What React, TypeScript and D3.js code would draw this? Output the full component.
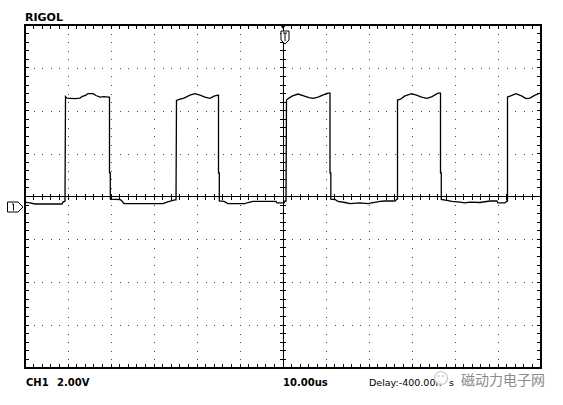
import React from "react";
import * as d3 from "d3";

// Trace samples: time (µs, relative to trigger) and voltage (V)
const timeUs = [
  -60, -58.84, -57.67, -51.4, -51.16, -50.7, -50.58,
  -50.23, -48.37, -47.21, -46.74, -45.81, -45.35, -44.19, -43.49, -42.56, -41.63, -40.7, -40.35,
  -40.35, -40.16, -40.16,
  -37.91, -37.44, -36.98, -27.91, -26.98, -25.81, -25.12, -24.88, -24.77,
  -23.95, -23.02, -21.63, -20.47, -19.3, -18.14, -16.98, -16.05, -15.12, -15.0,
  -15.0, -14.81, -14.81,
  -13.72, -12.79, -8.84, -8.14, -6.98, -1.63, -1.4, 0.23, 0.47, 0.7, 0.81,
  1.4, 2.09, 3.49, 4.65, 6.05, 6.98, 8.14, 9.53, 10.47, 10.93,
  10.93, 11.12, 11.12,
  12.09, 12.79, 14.42, 15.58, 17.91, 19.77, 22.56, 23.72, 26.05, 26.51, 26.63, 26.63,
  27.33, 28.26, 29.88, 31.05, 32.21, 33.49, 34.65, 36.05, 36.63,
  36.63, 36.81, 36.81,
  38.37, 39.3, 41.16, 42.33, 43.49, 45.81, 48.14, 49.77, 50.0, 51.63, 52.09, 52.21, 52.21,
  52.79, 54.19, 55.58, 56.51, 57.44, 58.6, 60.0,
];
const volts = [
  0.23, 0.19, 0.14, 0.14, 0.23, 0.28, 5.15,
  5.08, 5.06, 5.08, 5.15, 5.22, 5.29, 5.29, 5.2, 5.13, 5.15, 5.13, 5.13,
  1.59, 1.59, 0.37,
  0.35, 0.28, 0.16, 0.16, 0.23, 0.3, 0.33, 0.33, 4.97,
  5.03, 5.08, 5.22, 5.29, 5.22, 5.13, 5.07, 5.17, 5.22, 5.22,
  1.59, 1.59, 0.28,
  0.26, 0.16, 0.16, 0.21, 0.26, 0.26, 0.19, 0.19, 0.28, 0.28, 4.99,
  5.08, 5.17, 5.27, 5.2, 5.1, 5.07, 5.13, 5.24, 5.31, 5.31,
  1.59, 1.59, 0.37,
  0.35, 0.26, 0.21, 0.16, 0.19, 0.16, 0.26, 0.28, 0.28, 0.37, 0.37, 4.99,
  5.03, 5.17, 5.29, 5.22, 5.13, 5.07, 5.15, 5.31, 5.31,
  1.59, 1.59, 0.35,
  0.3, 0.26, 0.23, 0.19, 0.23, 0.21, 0.28, 0.28, 0.19, 0.19, 0.28, 0.28, 5.13,
  5.17, 5.29, 5.17, 5.06, 5.08, 5.22, 5.33,
];

const xDivisions = d3.range(-6, 7); // 10 µs/div
const yDivisions = d3.range(-4, 5); // 2 V/div
const voltsPerDiv = 2;
const usPerDiv = 10;
const screenCenterVolts = 0.49;

const W = 563;
const H = 405;
const L = 25, R = 541, T = 25, B = 368;

export default function App() {
  const x = d3.scaleLinear().domain([-6 * usPerDiv, 6 * usPerDiv]).range([L, R]);
  const y = d3
    .scaleLinear()
    .domain([screenCenterVolts - 4 * voltsPerDiv, screenCenterVolts + 4 * voltsPerDiv])
    .range([B, T]);

  const minorX = d3.range(-30, 31).map((i) => x((i * usPerDiv) / 5));
  const minorY = d3.range(-20, 21).map((j) => y(screenCenterVolts + (j * voltsPerDiv) / 5));
  const cx = x(0);
  const cy = y(screenCenterVolts);

  const pts: [number, number][] = timeUs.map((t, i) => [t, volts[i]]);
  const line = d3
    .line<[number, number]>()
    .x((d) => x(d[0]))
    .y((d) => y(d[1]));

  const dots: React.ReactNode[] = [];
  xDivisions.forEach((k) => {
    if (k === -6 || k === 6 || k === 0) return;
    const gx = Math.round(x(k * usPerDiv));
    minorY.slice(1, -1).forEach((py, j) => {
      dots.push(<rect key={`v${k}-${j}`} x={gx} y={Math.round(py)} width={1} height={1} fill="#444" />);
    });
  });
  yDivisions.forEach((k) => {
    if (k === -4 || k === 4 || k === 0) return;
    const gy = Math.round(y(screenCenterVolts + k * voltsPerDiv));
    minorX.slice(1, -1).forEach((px, j) => {
      dots.push(<rect key={`h${k}-${j}`} x={Math.round(px)} y={gy} width={1} height={1} fill="#444" />);
    });
  });

  const ticks: React.ReactNode[] = [];
  minorX.slice(1, -1).forEach((px, i) => {
    ticks.push(<line key={`tt${i}`} x1={px} x2={px} y1={T} y2={T + 4} />);
    ticks.push(<line key={`tb${i}`} x1={px} x2={px} y1={B - 4} y2={B} />);
    ticks.push(<line key={`tc${i}`} x1={px} x2={px} y1={cy - 3} y2={cy + 3} />);
  });
  minorY.slice(1, -1).forEach((py, i) => {
    ticks.push(<line key={`tl${i}`} x1={L} x2={L + 4} y1={py} y2={py} />);
    ticks.push(<line key={`tr${i}`} x1={R - 4} x2={R} y1={py} y2={py} />);
    ticks.push(<line key={`tm${i}`} x1={cx - 3} x2={cx + 3} y1={py} y2={py} />);
  });

  const groundY = y(0);

  return (
    <svg
      width={W}
      height={H}
      style={{ position: "absolute", left: 0, top: 0, background: "#fff" }}
    >
      <rect x={0} y={0} width={W} height={H} fill="#fff" />
      <text x={25} y={21} fontFamily="DejaVu Sans" fontWeight="bold" fontSize={11} fill="#000">
        RIGOL
      </text>
      <g>{dots}</g>
      <g stroke="#000" strokeWidth={1} shapeRendering="crispEdges">
        {ticks}
        <line x1={L} x2={R} y1={cy} y2={cy} />
        <line x1={cx} x2={cx} y1={T} y2={B} />
      </g>
      <rect x={L} y={T} width={R - L} height={B - T} fill="none" stroke="#000" strokeWidth={2} />
      {/* trigger marker */}
      <path d={`M${cx - 3},${T} L${cx + 3},${T} L${cx},${T + 4} Z`} fill="#000" />
      <path
        d={`M${cx - 2},${T + 6} H${cx + 6} V${T + 15} L${cx + 2},${T + 19} L${cx - 2},${T + 15} Z`}
        fill="#fff"
        stroke="#000"
        strokeWidth={1}
      />
      <path d={`M${cx},${T + 8} H${cx + 4} M${cx + 2},${T + 8} V${T + 16}`} stroke="#000" strokeWidth={1} fill="none" />
      {/* channel marker */}
      <path
        d={`M7.5,${groundY - 5} H18 L23,${groundY} L18,${groundY + 5} H7.5 Z`}
        fill="#fff"
        stroke="#000"
        strokeWidth={1}
      />
      <path d={`M12,${groundY - 3} H13.5 V${groundY + 3.5}`} stroke="#000" strokeWidth={1} fill="none" />
      {/* trace */}
      <path d={line(pts) || ""} fill="none" stroke="#000" strokeWidth={1.3} strokeLinejoin="miter" />
      <g fontFamily="DejaVu Sans" fill="#000">
        <text x={26} y={386} fontWeight="bold" fontSize={10}>CH1</text>
        <text x={57} y={386} fontWeight="bold" fontSize={10}>2.00V</text>
        <text x={283} y={386} fontWeight="bold" fontSize={10}>10.00us</text>
        <text x={369} y={386} fontSize={9.5}>
          <tspan>Delay:-400.00n</tspan>
          <tspan x={449}>s</tspan>
        </text>
      </g>
      {/* watermark */}
      <g>
        <circle cx={441} cy={378} r={6.5} fill="#fff" fillOpacity={0.85} stroke="#c8c8c8" strokeWidth={1.2} />
        <circle cx={438.5} cy={376} r={1} fill="#c4c4c4" />
        <circle cx={443} cy={376} r={1} fill="#c4c4c4" />
        <text
          x={461}
          y={384.5}
          fontFamily="Noto Sans CJK SC"
          fontSize={14}
          fill="#8a8a8a"
        >
          磁动力电子网
        </text>
      </g>
    </svg>
  );
}
